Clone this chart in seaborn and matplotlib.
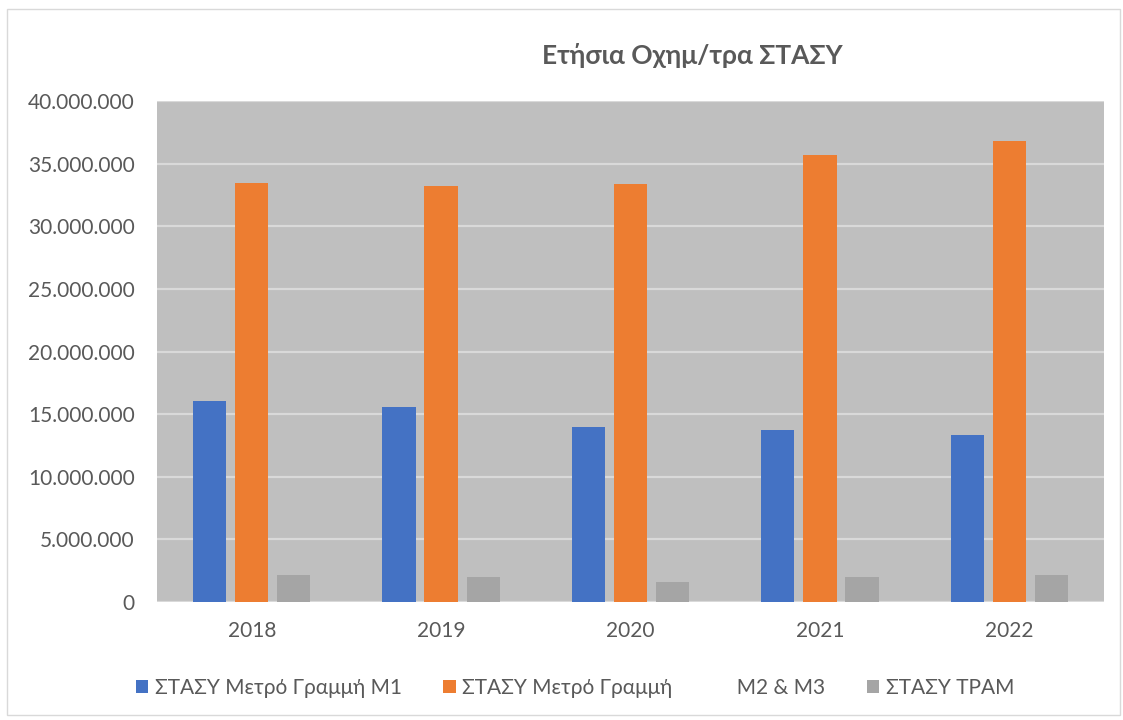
import pandas as pd
import matplotlib.pyplot as plt
import seaborn as sns
from matplotlib.ticker import FuncFormatter
from matplotlib.patches import Rectangle

# ετήσια οχηματοχιλιόμετρα ανά γραμμή (τιμές διαβασμένες από το γράφημα)
years = ["2018", "2019", "2020", "2021", "2022"]
m1 = [16060000, 15590000, 13960000, 13720000, 13300000]
m2_m3 = [33460000, 33220000, 33400000, 35720000, 36840000]
tram = [2130000, 1970000, 1600000, 1970000, 2130000]

series = ["ΣΤΑΣΥ Μετρό Γραμμή Μ1",
          "ΣΤΑΣΥ Μετρό Γραμμή            Μ2 & Μ3",
          "ΣΤΑΣΥ ΤΡΑΜ"]
colors = ["#4472C4", "#ED7D31", "#A5A5A5"]

df = pd.DataFrame({
    "year": years * 3,
    "value": m1 + m2_m3 + tram,
    "series": [series[0]] * 5 + [series[1]] * 5 + [series[2]] * 5,
})

sns.set_style("white")
plt.rcParams["font.family"] = ["Lato", "DejaVu Sans"]
txt = "#595959"

fig = plt.figure(figsize=(11.23, 7.2), dpi=100)
ax = fig.add_axes([157 / 1123, 1 - 602 / 720, (1104 - 157) / 1123, (602 - 101) / 720])
ax.set_facecolor("#BFBFBF")

sns.barplot(data=df, x="year", y="value", hue="series", palette=colors,
            saturation=1, linewidth=0, edgecolor="none",
            width=0.667, gap=0.21, ax=ax, zorder=3, legend=True)

ax.set_ylim(0, 40000000)
ax.set_xlim(-0.5, 4.5)
ax.set_yticks(range(0, 40000001, 5000000))
ax.yaxis.set_major_formatter(FuncFormatter(lambda v, p: f"{v:,.0f}".replace(",", ".")))
ax.grid(axis="y", color="#D9D9D9", linewidth=1.6, zorder=0)
ax.set_axisbelow(True)
for s in ax.spines.values():
    s.set_visible(False)
ax.tick_params(axis="y", length=0, pad=16, labelsize=15, labelcolor=txt)
ax.tick_params(axis="x", length=0, pad=14, labelsize=15, labelcolor=txt)
ax.set_xlabel("")
ax.set_ylabel("")

handles, labels = ax.get_legend_handles_labels()
ax.get_legend().remove()
fig.legend(handles, labels, loc="center", bbox_to_anchor=(575 / 1123, 1 - 688 / 720),
           ncol=3, frameon=False, fontsize=15, labelcolor=txt,
           handlelength=0.6, handleheight=0.6, handletextpad=0.3, columnspacing=2.0)

fig.text(692 / 1123, 1 - 55 / 720, "Ετήσια Οχημ/τρα ΣΤΑΣΥ", ha="center", va="center",
         fontsize=19, fontweight="bold", color=txt)

fig.patches.append(Rectangle((7 / 1123, 1 - 715 / 720), (1120 - 7) / 1123, (715 - 9) / 720,
                             transform=fig.transFigure, fill=False, edgecolor="#D9D9D9",
                             linewidth=1))

fig.savefig("out.png", dpi=100)
